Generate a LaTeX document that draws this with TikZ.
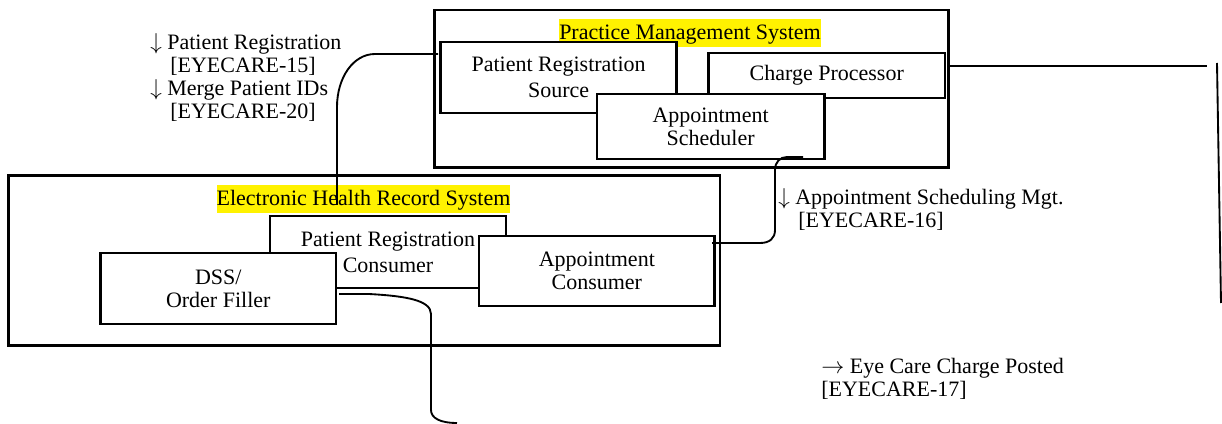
\documentclass[tikz,border=0pt]{standalone}
\usepackage{fontspec}
\setmainfont{Liberation Serif}
\usepackage{tikz}
\usetikzlibrary{positioning}

\tikzset{
  sysbox/.style={draw, line width=1.8pt, inner sep=0pt},
  partbox/.style={draw, line width=1.8pt, fill=white, align=center, inner sep=0pt},
  systitle/.style={fill=yellow, inner xsep=0pt, inner ysep=1.5pt, text height=14pt, text depth=4pt},
  msglabel/.style={anchor=north west, align=left, inner sep=0pt},
  wire/.style={line width=1.4pt},
}

\begin{document}
\begin{tikzpicture}[x=0.75pt,y=0.75pt,yscale=-1,xscale=1,
  every node/.style={font=\fontsize{16.5}{17.25}\selectfont}]
\useasboundingbox (0,0) rectangle (1222,424);

% Practice Management System
\node [sysbox, minimum width=385.5pt, minimum height=118.1pt] (pms) at (691.5,88.75) {};
\node [systitle] (pmstitle) at (690,33) {Practice Management System};
\node [partbox, minimum width=176.9pt, minimum height=53.25pt] (regsrc) at (558.6,77.5) {Patient Registration\\[2.25pt]Source};
\node [partbox, minimum width=177.3pt, minimum height=33.75pt] (charge) at (826.8,75.5) {Charge Processor};
\node [partbox, minimum width=170.9pt, minimum height=48.75pt] (sched) at (710.65,126.5) {Appointment\\Scheduler};

% Electronic Health Record System
\node [sysbox, minimum width=533.6pt, minimum height=127.35pt] (ehr) at (364.25,260.6) {};
\node [systitle] (ehrtitle) at (363.5,199) {Electronic Health Record System};
\node [partbox, minimum width=177pt, minimum height=54pt] (regcons) at (388,252) {Patient Registration\\[2.25pt]Consumer};
\node [partbox, minimum width=176.6pt, minimum height=53.25pt] (dss) at (218.25,288.5) {DSS/\\Order Filler};
\node [partbox, minimum width=176.7pt, minimum height=52.5pt] (apptcons) at (596.8,271) {Appointment\\Consumer};

% connector ends
\coordinate (regin) at (438,54);
\coordinate (regout) at (337,205);
\coordinate (schedout) at (803,157);
\coordinate (apptin) at (712,243);
\coordinate (dssout) at (339,294);
\coordinate (dssend) at (457,423);
\coordinate (chgout) at (947,66);
\coordinate (chgend) at (1207,66);

% connectors
\draw [wire] (regin) -- (375,54) .. controls (353,54) and (337,78) .. (337,107) -- (regout);
\draw [wire] (schedout) -- (787,157) .. controls (780,157) and (775,162) .. (775,170) -- (775,230) .. controls (775,238) and (770,243) .. (760,243) -- (apptin);
\draw [wire] (dssout) -- (369,294) .. controls (405,296) and (431,300) .. (431,314) -- (431,410) .. controls (431,418) and (440,423) .. (dssend);
\draw [wire] (chgout) -- (chgend);
\draw [wire] (1217,63) -- (1221,303);

% Text Node
\node [msglabel] (reglbl) at (150,33) {$\downarrow$ Patient Registration\\\hspace*{15pt}[EYECARE-15]\\$\downarrow$ Merge Patient IDs\\\hspace*{15pt}[EYECARE-20]};
% Text Node
\node [msglabel] (schedlbl) at (778,188) {$\downarrow$ Appointment Scheduling Mgt.\\\hspace*{15pt}[EYECARE-16]};
% Text Node
\node [msglabel] (chglbl) at (821,358) {$\rightarrow$ Eye Care Charge Posted\\{}[EYECARE-17]};

\end{tikzpicture}
\end{document}
